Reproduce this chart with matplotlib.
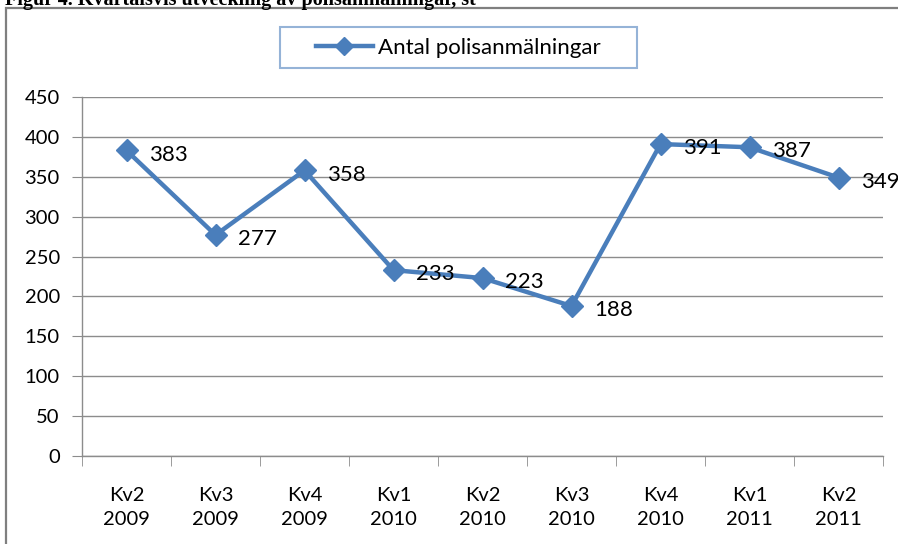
import matplotlib.pyplot as plt
from matplotlib.patches import Rectangle
from matplotlib.lines import Line2D

# data
quarters = ["Kv2", "Kv3", "Kv4", "Kv1", "Kv2", "Kv3", "Kv4", "Kv1", "Kv2"]
years = ["2009", "2009", "2009", "2010", "2010", "2010", "2010", "2011", "2011"]
values = [383, 277, 358, 233, 223, 188, 391, 387, 349]
series_name = "Antal polisanmälningar"
title = "Figur 4. Kvartalsvis utveckling av polisanmälningar, st"

W, H = 898, 544
blue = "#4a7ebb"
grid_col = "#8c8c8c"
font = ["Lato", "DejaVu Sans"]

fig = plt.figure(figsize=(W / 100, H / 100), dpi=100)

# outer frame of chart
fig.patches.append(Rectangle((6 / W, -0.05), 1.0, 1 - 8 / H + 0.05, transform=fig.transFigure,
                             fill=False, edgecolor="#7f7f7f", linewidth=1.6))

# title, cut at the top edge like in the source
fig.text(5 / W, 1 - 5 / H, title, family="Liberation Serif", weight="bold",
         fontsize=14.5, ha="left", va="baseline")

ax = fig.add_axes([82 / W, (H - 456) / H, (883 - 82) / W, (456 - 97) / H])
x = list(range(len(values)))
ax.plot(x, values, color=blue, linewidth=3.2, marker="D", markersize=11,
        markerfacecolor=blue, markeredgecolor=blue, zorder=3)

for xi, v in zip(x, values):
    ax.annotate(str(v), (xi, v), xytext=(16, -3), textcoords="offset points",
                ha="left", va="center", fontsize=16, family=font, color="#000000")

ax.set_xlim(-0.5, len(values) - 0.5)
ax.set_ylim(0, 450)
ax.set_yticks(range(0, 451, 50))
ax.yaxis.grid(True, color=grid_col, linewidth=1)
ax.set_axisbelow(True)

ax.set_xticks(x)
ax.set_xticklabels([f"{q}\n{y}" for q, y in zip(quarters, years)], family=font,
                   fontsize=14.5, linespacing=1.55)
ax.set_xticks([i + 0.5 for i in range(-1, len(values))], minor=True)
ax.tick_params(axis="x", which="major", length=0, pad=22)
ax.tick_params(axis="x", which="minor", length=7, color=grid_col, direction="out")
ax.tick_params(axis="y", length=7, color=grid_col, direction="out", pad=9)
for lab in ax.get_yticklabels():
    lab.set_family(font)
    lab.set_fontsize(14.5)

for side in ["top", "right"]:
    ax.spines[side].set_visible(False)
for side in ["left", "bottom"]:
    ax.spines[side].set_color(grid_col)
    ax.spines[side].set_linewidth(1)

# legend box
fig.patches.append(Rectangle((280 / W, 1 - 68 / H), (637 - 280) / W, (68 - 27) / H,
                             transform=fig.transFigure, fill=False,
                             edgecolor="#95b3d7", linewidth=1.5))
handle = Line2D([], [], color=blue, linewidth=3.2, marker="D", markersize=9)
fig.legend([handle], [series_name], loc="center", bbox_to_anchor=(458 / W, 1 - 47.5 / H),
           frameon=False, prop={"family": font, "size": 16}, handlelength=2.6,
           handletextpad=0.2)

fig.savefig("out.png", dpi=100)
